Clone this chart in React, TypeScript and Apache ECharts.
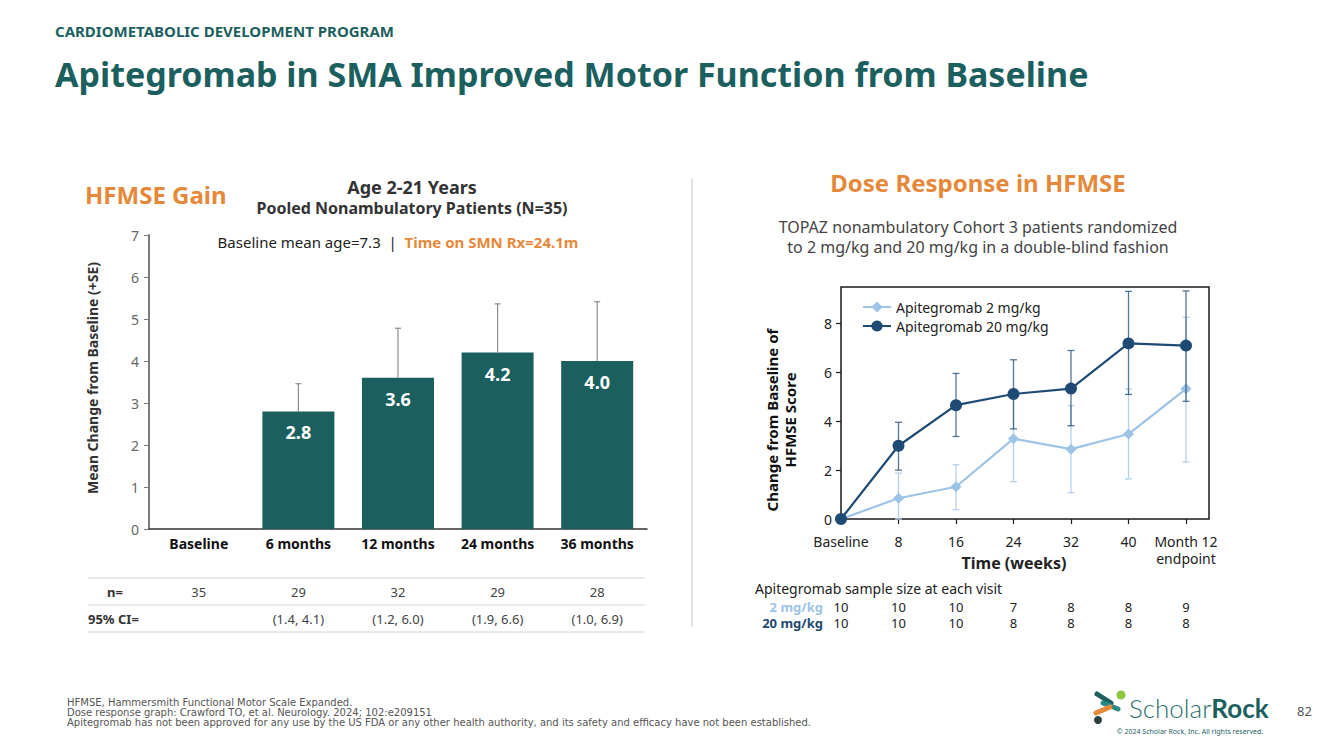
import React, { useEffect, useRef } from "react";
import * as echarts from "echarts";

// ---------- Left chart data (HFMSE Gain) ----------
const barCategories = ["Baseline", "6 months", "12 months", "24 months", "36 months"];
const barMeans = [0, 2.8, 3.6, 4.2, 4.0];
const barUpperSE = [0, 3.46, 4.78, 5.36, 5.41];
const barN = ["35", "29", "32", "29", "28"];
const barCI = ["", "(1.4, 4.1)", "(1.2, 6.0)", "(1.9, 6.6)", "(1.0, 6.9)"];

// ---------- Right chart data (Dose response) ----------
const weekValues = [0, 8, 16, 24, 32, 40, 48];
const weekLabels = ["Baseline", "8", "16", "24", "32", "40", "Month 12\nendpoint"];
const yTicksRight = [0, 2, 4, 6, 8];
const dose2Mean = [0, 0.85, 1.32, 3.29, 2.86, 3.48, 5.33];
const dose2Low = [0, 0, 0.38, 1.53, 1.08, 1.64, 2.33];
const dose2High = [0, 1.88, 2.22, 5.05, 4.64, 5.32, 8.26];
const dose20Mean = [0, 3.0, 4.66, 5.12, 5.34, 7.19, 7.1];
const dose20Low = [0, 2.0, 3.38, 3.69, 3.82, 5.1, 4.82];
const dose20High = [0, 3.96, 5.96, 6.52, 6.9, 9.32, 9.34];
const n2 = ["10", "10", "10", "7", "8", "8", "9"];
const n20 = ["10", "10", "10", "8", "8", "8", "8"];

const F = "'Noto Sans', sans-serif";
const FOOT = "'DejaVu Sans', sans-serif";
const TEAL = "#1c5f5f";
const ORANGE = "#e6883a";
const LIGHT = "#9dc3e6";
const DARK = "#1f4a73";

function errorBarRender(color: string, width: number, cap: number, both: boolean) {
  return (params: any, api: any) => {
    const x = api.value(0);
    const lo = api.value(1);
    const hi = api.value(2);
    const pLo = api.coord([x, lo]);
    const pHi = api.coord([x, hi]);
    const style = { stroke: color, lineWidth: width };
    const children: any[] = [
      { type: "line", shape: { x1: pLo[0], y1: pLo[1], x2: pHi[0], y2: pHi[1] }, style },
      { type: "line", shape: { x1: pHi[0] - cap, y1: pHi[1], x2: pHi[0] + cap, y2: pHi[1] }, style },
    ];
    if (both) {
      children.push({ type: "line", shape: { x1: pLo[0] - cap, y1: pLo[1], x2: pLo[0] + cap, y2: pLo[1] }, style });
    }
    return { type: "group", children };
  };
}

export default function App() {
  const ref = useRef<HTMLDivElement>(null);

  useEffect(() => {
    if (!ref.current) return;
    const chart = echarts.init(ref.current, undefined, { renderer: "svg" });

    const leftErr = barCategories
      .map((c, i) => [i, barMeans[i], barUpperSE[i]])
      .filter((d) => d[2] > d[1]);
    const err2 = weekValues.map((w, i) => [w, dose2Low[i], dose2High[i]]).filter((d) => d[2] > d[1]);
    const err20 = weekValues.map((w, i) => [w, dose20Low[i], dose20High[i]]).filter((d) => d[2] > d[1]);

    chart.setOption({
      animation: false,
      backgroundColor: "#ffffff",
      textStyle: { fontFamily: F },
      grid: [
        { left: 149, top: 235, right: 686, bottom: 220, containLabel: false },
        {
          left: 841, top: 287, right: 124, bottom: 230, containLabel: false,
          show: true, borderColor: "#1a1a1a", borderWidth: 1.5, backgroundColor: "transparent",
        },
      ],
      legend: {
        data: ["Apitegromab 2 mg/kg", "Apitegromab 20 mg/kg"],
        orient: "vertical",
        left: 862,
        top: 300,
        itemWidth: 28,
        itemHeight: 14,
        itemGap: 5,
        padding: 0,
        textStyle: { fontFamily: F, fontSize: 14, color: "#222" },
      },
      xAxis: [
        {
          gridIndex: 0,
          type: "category",
          data: barCategories,
          axisLine: { lineStyle: { color: "#333", width: 1.5 } },
          axisTick: { show: false },
          axisLabel: { color: "#111", fontWeight: "bold", fontSize: 14, margin: 7, fontFamily: F },
        },
        {
          gridIndex: 1,
          type: "value",
          min: 0,
          max: 51.2,
          axisLine: { show: false },
          axisTick: { show: true, length: 5, lineStyle: { color: "#1a1a1a", width: 1.2 }, customValues: weekValues },
          axisLabel: {
            customValues: weekValues,
            color: "#222",
            fontSize: 14,
            margin: 14,
            lineHeight: 17,
            fontFamily: F,
            formatter: (v: number) => {
              const i = weekValues.indexOf(v);
              return i >= 0 ? weekLabels[i] : "";
            },
          },
          splitLine: { show: false },
        },
      ],
      yAxis: [
        {
          gridIndex: 0,
          type: "value",
          min: 0,
          max: 7,
          interval: 1,
          axisLine: { show: true, lineStyle: { color: "#7a7a7a", width: 2 } },
          axisTick: { show: true, length: 5, lineStyle: { color: "#7a7a7a" } },
          axisLabel: { color: "#666", fontSize: 14, margin: 10, fontFamily: F },
          splitLine: { show: false },
        },
        {
          gridIndex: 1,
          type: "value",
          min: 0,
          max: 9.5,
          axisLine: { show: false },
          axisTick: { show: true, length: 5, lineStyle: { color: "#1a1a1a", width: 1.2 }, customValues: yTicksRight },
          axisLabel: { customValues: yTicksRight, color: "#222", fontSize: 14, margin: 9, fontFamily: F },
          splitLine: { show: false },
        },
      ],
      series: [
        {
          name: "HFMSE",
          type: "bar",
          xAxisIndex: 0,
          yAxisIndex: 0,
          data: barMeans,
          barWidth: 72,
          itemStyle: { color: "#1b5f5e" },
          label: {
            show: true,
            position: "insideTop",
            distance: 12,
            color: "#ffffff",
            fontWeight: "bold",
            fontSize: 18,
            fontFamily: F,
            formatter: (p: any) => (p.value > 0 ? Number(p.value).toFixed(1) : ""),
          },
        },
        {
          name: "SE",
          type: "custom",
          xAxisIndex: 0,
          yAxisIndex: 0,
          data: leftErr,
          renderItem: errorBarRender("#8c8c8c", 1.2, 3, false),
          z: 3,
        },
        {
          name: "err2",
          type: "custom",
          xAxisIndex: 1,
          yAxisIndex: 1,
          data: err2,
          renderItem: errorBarRender("#b5d1ec", 1.3, 3.5, true),
          z: 2,
        },
        {
          name: "Apitegromab 2 mg/kg",
          type: "line",
          xAxisIndex: 1,
          yAxisIndex: 1,
          data: weekValues.map((w, i) => [w, dose2Mean[i]]),
          symbol: "diamond",
          symbolSize: 11,
          lineStyle: { color: LIGHT, width: 2.2 },
          itemStyle: { color: LIGHT },
          z: 3,
        },
        {
          name: "err20",
          type: "custom",
          xAxisIndex: 1,
          yAxisIndex: 1,
          data: err20,
          renderItem: errorBarRender("rgba(31,74,115,0.75)", 1.3, 3.5, true),
          z: 4,
        },
        {
          name: "Apitegromab 20 mg/kg",
          type: "line",
          xAxisIndex: 1,
          yAxisIndex: 1,
          data: weekValues.map((w, i) => [w, dose20Mean[i]]),
          symbol: "circle",
          symbolSize: 12,
          lineStyle: { color: DARK, width: 2.2 },
          itemStyle: { color: DARK },
          z: 5,
        },
      ],
    });

    // positions of columns from the axes
    const leftX = barCategories.map((c, i) => chart.convertToPixel({ xAxisIndex: 0 }, i) as number);
    const rightX = weekValues.map((w) => chart.convertToPixel({ xAxisIndex: 1 }, w) as number);

    const t = (x: number, y: number, text: string, size: number, color: string, opts: any = {}) => ({
      type: "text",
      x,
      y,
      style: {
        text,
        fontSize: size,
        fill: color,
        fontFamily: opts.fontFamily || F,
        fontWeight: opts.bold ? "bold" : "normal",
        align: opts.align || "left",
        verticalAlign: "middle",
        lineHeight: opts.lineHeight,
      },
      rotation: opts.rotation || 0,
    });

    const graphic: any[] = [
      t(55, 31, "CARDIOMETABOLIC DEVELOPMENT PROGRAM", 15, TEAL, { bold: true }),
      t(55, 74, "Apitegromab in SMA Improved Motor Function from Baseline", 34, TEAL, { bold: true }),
      t(85, 194, "HFMSE Gain", 24, ORANGE, { bold: true }),
      t(412, 187, "Age 2-21 Years", 18, "#333", { bold: true, align: "center" }),
      t(412, 208, "Pooled Nonambulatory Patients (N=35)", 16, "#333", { bold: true, align: "center" }),
      {
        type: "text",
        x: 398,
        y: 242,
        style: {
          text: "{a|Baseline mean age=7.3  |  }{b|Time on SMN Rx=24.1m}",
          align: "center",
          verticalAlign: "middle",
          rich: {
            a: { fontSize: 15, fill: "#222", fontFamily: F },
            b: { fontSize: 15, fill: ORANGE, fontFamily: F, fontWeight: "bold" },
          },
        },
      },
      t(92, 378, "Mean Change from Baseline (+SE)", 14, "#333", { bold: true, align: "center", rotation: Math.PI / 2 }),
      // divider
      { type: "line", shape: { x1: 692, y1: 178, x2: 692, y2: 627 }, style: { stroke: "#c8c8c8", lineWidth: 1 } },
      // left table
      { type: "line", shape: { x1: 88, y1: 578, x2: 645, y2: 578 }, style: { stroke: "#d4d4d4", lineWidth: 1 } },
      { type: "line", shape: { x1: 88, y1: 605, x2: 645, y2: 605 }, style: { stroke: "#d4d4d4", lineWidth: 1 } },
      { type: "line", shape: { x1: 88, y1: 632, x2: 645, y2: 632 }, style: { stroke: "#d4d4d4", lineWidth: 1 } },
      t(123, 592, "n=", 13, "#333", { bold: true, align: "right" }),
      t(88, 619, "95% CI=", 13, "#333", { bold: true }),
      ...barN.map((v, i) => t(leftX[i], 592, v, 13, "#444", { align: "center" })),
      ...barCI.map((v, i) => t(leftX[i], 619, v, 13, "#444", { align: "center" })),
      // right headings
      t(978, 182, "Dose Response in HFMSE", 24, ORANGE, { bold: true, align: "center" }),
      t(978, 227, "TOPAZ nonambulatory Cohort 3 patients randomized", 16, "#444", { align: "center" }),
      t(978, 247, "to 2 mg/kg and 20 mg/kg in a double-blind fashion", 16, "#444", { align: "center" }),
      t(781, 420, "Change from Baseline of\nHFMSE Score", 15, "#111", {
        bold: true, align: "center", rotation: Math.PI / 2, lineHeight: 18,
      }),
      t(1014, 563, "Time (weeks)", 16, "#222", { bold: true, align: "center" }),
      // right table
      t(755, 588, "Apitegromab sample size at each visit", 14, "#222"),
      t(823, 607, "2 mg/kg", 13, LIGHT, { bold: true, align: "right" }),
      t(823, 623, "20 mg/kg", 13, DARK, { bold: true, align: "right" }),
      ...n2.map((v, i) => t(rightX[i], 607, v, 13, "#222", { align: "center" })),
      ...n20.map((v, i) => t(rightX[i], 623, v, 13, "#222", { align: "center" })),
      // footer
      t(67, 702, "HFMSE, Hammersmith Functional Motor Scale Expanded.", 10, "#555", { fontFamily: FOOT, lineHeight: 10 }),
      t(67, 712, "Dose response graph: Crawford TO, et al. Neurology. 2024; 102:e209151", 10, "#555", { fontFamily: FOOT, lineHeight: 10 }),
      t(67, 722, "Apitegromab has not been approved for any use by the US FDA or any other health authority, and its safety and efficacy have not been established.", 10, "#555", { fontFamily: FOOT, lineHeight: 10 }),
      // logo
      { type: "line", shape: { x1: 1097, y1: 694, x2: 1111, y2: 703 }, style: { stroke: TEAL, lineWidth: 5, lineCap: "round" } },
      { type: "circle", shape: { cx: 1121, cy: 695, r: 4.5 }, style: { fill: "#8dc63f" } },
      { type: "line", shape: { x1: 1103, y1: 703, x2: 1118, y2: 709 }, style: { stroke: "#2a8a86", lineWidth: 5, lineCap: "round" } },
      { type: "line", shape: { x1: 1096, y1: 713, x2: 1110, y2: 707 }, style: { stroke: ORANGE, lineWidth: 5, lineCap: "round" } },
      { type: "circle", shape: { cx: 1098, cy: 720, r: 4 }, style: { fill: "#2e3f40" } },
      {
        type: "text",
        x: 1129,
        y: 708,
        style: {
          text: "{a|Scholar}{b|Rock}",
          verticalAlign: "middle",
          rich: {
            a: { fontSize: 26, fill: "#2a6f6e", fontFamily: "Lato, sans-serif", fontWeight: 300 },
            b: { fontSize: 26, fill: TEAL, fontFamily: "Lato, sans-serif", fontWeight: "bold" },
          },
        },
      },
      t(1190, 731, "© 2024 Scholar Rock, Inc. All rights reserved.", 7, TEAL, { align: "center" }),
      t(1297, 711, "82", 13, "#555"),
    ];

    chart.setOption({ graphic });

    return () => chart.dispose();
  }, []);

  return (
    <div
      ref={ref}
      style={{ position: "fixed", left: 0, top: 0, width: 1333, height: 749, background: "#fff" }}
    />
  );
}
